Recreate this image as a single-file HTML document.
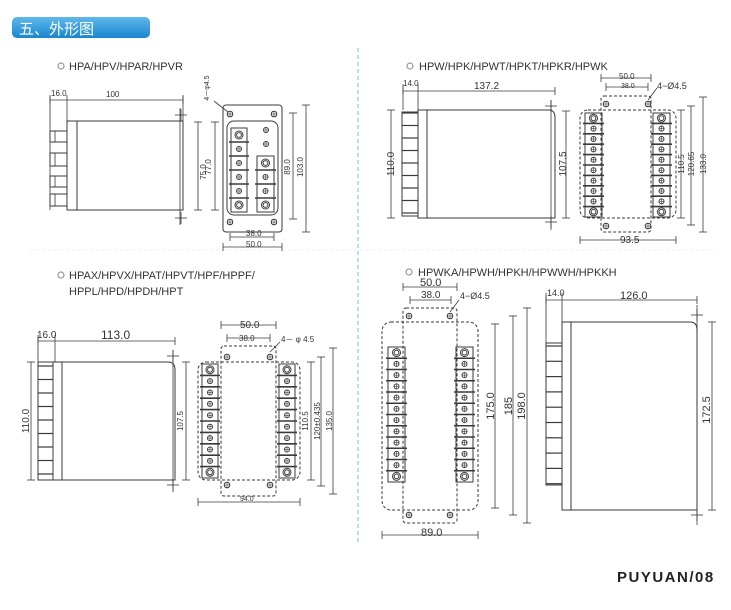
<!DOCTYPE html>
<html><head><meta charset="utf-8"><style>
html,body{margin:0;padding:0;background:#fff;}
svg{display:block;}
text{font-family:"Liberation Sans",sans-serif;fill:#333;}
</style></head><body>
<svg id="s" width="731" height="610" viewBox="0 0 731 610" xmlns="http://www.w3.org/2000/svg">
<defs>
<linearGradient id="hg" x1="0" y1="0" x2="0" y2="1"><stop offset="0" stop-color="#5fb8ec"/><stop offset="1" stop-color="#1a86cf"/></linearGradient>
</defs>
<rect x="12" y="17" width="138" height="21" rx="5" fill="url(#hg)"/>
<text x="19" y="34" style="font-family:'Noto Sans CJK SC',sans-serif;font-size:15px;fill:#fff">五、外形图</text>
<line x1="358" y1="48" x2="358" y2="545" stroke="#9fd3ef" stroke-width="1.5" stroke-dasharray="4,3"/>
<line x1="30" y1="250" x2="715" y2="250" stroke="#e6f2f8" stroke-width="1" stroke-dasharray="3,3"/>

<g id="draw" fill="none" stroke="#3a3a3a" stroke-width="1"></g>

<g font-size="11">
<circle cx="61" cy="66" r="3" fill="none" stroke="#999" stroke-width="1.2"/>
<text x="69" y="70">HPA/HPV/HPAR/HPVR</text>
<circle cx="410" cy="66" r="3" fill="none" stroke="#999" stroke-width="1.2"/>
<text x="419" y="70">HPW/HPK/HPWT/HPKT/HPKR/HPWK</text>
<circle cx="61" cy="275" r="3" fill="none" stroke="#999" stroke-width="1.2"/>
<text x="69" y="279">HPAX/HPVX/HPAT/HPVT/HPF/HPPF/</text>
<text x="69" y="295">HPPL/HPD/HPDH/HPT</text>
<circle cx="409" cy="272" r="3" fill="none" stroke="#999" stroke-width="1.2"/>
<text x="418" y="276">HPWKA/HPWH/HPKH/HPWWH/HPKKH</text>
</g>

<g font-size="8">
<text x="51" y="96">16.0</text><text x="106" y="97">100</text>
<text x="206" y="172" transform="rotate(-90 206 172)" text-anchor="middle">75.0</text>
<text x="211" y="167" transform="rotate(-90 211 167)" text-anchor="middle">77.0</text>
<text x="290" y="167" transform="rotate(-90 290 167)" text-anchor="middle">89.0</text>
<text x="303" y="167" transform="rotate(-90 303 167)" text-anchor="middle">103.0</text>
<text x="246" y="236">38.0</text><text x="246" y="247">50.0</text>
<text x="209" y="88" transform="rotate(-90 209 88)" text-anchor="middle" font-size="7">4－φ4.5</text>

<text x="403" y="86">14.0</text><text x="474" y="89" font-size="10">137.2</text>
<text x="394" y="164" transform="rotate(-90 394 164)" text-anchor="middle" font-size="10">110.0</text>
<text x="566" y="164" transform="rotate(-90 566 164)" text-anchor="middle" font-size="10">107.5</text>
<text x="619" y="79">50.0</text><text x="621" y="88" font-size="7">38.0</text>
<text x="657" y="89" font-size="9">4−Ø4.5</text>
<text x="684" y="164" transform="rotate(-90 684 164)" text-anchor="middle">110.5</text>
<text x="694" y="164" transform="rotate(-90 694 164)" text-anchor="middle">120.65</text>
<text x="706" y="164" transform="rotate(-90 706 164)" text-anchor="middle">133.0</text>
<text x="620" y="243" font-size="10">93.5</text>

<text x="37" y="338" font-size="10">16.0</text><text x="101" y="339" font-size="12">113.0</text>
<text x="29" y="421" transform="rotate(-90 29 421)" text-anchor="middle" font-size="10">110.0</text>
<text x="183" y="421" transform="rotate(-90 183 421)" text-anchor="middle">107.5</text>
<text x="240" y="328" font-size="10">50.0</text><text x="239" y="341">38.0</text>
<text x="281" y="342">4－ φ 4.5</text>
<text x="308" y="421" transform="rotate(-90 308 421)" text-anchor="middle">110.5</text>
<text x="320" y="421" transform="rotate(-90 320 421)" text-anchor="middle">120±0.435</text>
<text x="332" y="421" transform="rotate(-90 332 421)" text-anchor="middle">135.0</text>
<text x="240" y="501" font-size="7">94.0</text>

<text x="420" y="286" font-size="11">50.0</text><text x="421" y="298" font-size="10">38.0</text>
<text x="460" y="299" font-size="9">4−Ø4.5</text>
<text x="494" y="406" transform="rotate(-90 494 406)" text-anchor="middle" font-size="11">175.0</text>
<text x="512" y="406" transform="rotate(-90 512 406)" text-anchor="middle" font-size="11">185</text>
<text x="525" y="406" transform="rotate(-90 525 406)" text-anchor="middle" font-size="11">198.0</text>
<text x="421" y="536" font-size="11">89.0</text>
<text x="547" y="296" font-size="9">14.0</text><text x="620" y="299" font-size="11">126.0</text>
<text x="710" y="410" transform="rotate(-90 710 410)" text-anchor="middle" font-size="11">172.5</text>
</g>
<text x="617" y="582" style="font-size:15px;font-weight:bold;letter-spacing:1.5px;fill:#222">PUYUAN/08</text>
</svg>
<script>
var g=document.getElementById('draw'),NS='http://www.w3.org/2000/svg';
function el(t,a){var e=document.createElementNS(NS,t);for(var k in a)e.setAttribute(k,a[k]);g.appendChild(e);return e;}
function L(x1,y1,x2,y2,w){el('line',{x1:x1,y1:y1,x2:x2,y2:y2,'stroke-width':w||0.8});}
function R(x,y,w,h,rx,dash){var a={x:x,y:y,width:w,height:h,rx:rx||0};if(dash)a['stroke-dasharray']='3,2';el('rect',a);}
function C(x,y,r){el('circle',{cx:x,cy:y,r:r});}
function screw(x,y,r){C(x,y,r);L(x-r,y,x+r,y,0.6);L(x,y-r,x,y+r,0.6);}
function hole(x,y){screw(x,y,2.8);}
function big(x,y){C(x,y,4);C(x,y,2.4);}
function hdim(x1,x2,y){L(x1,y,x2,y);L(x1,y-4,x1,y+4);L(x2,y-4,x2,y+4);}
function vdim(x,y1,y2){L(x,y1,x,y2);L(x-4,y1,x+4,y1);L(x-4,y2,x+4,y2);}
function cross(x,y){L(x-6,y,x+6,y);L(x,y-6,x,y+6);}
function block(x,y1,y2,n,w){R(x,y1,w,y2-y1);var s=(y2-y1)/n;var cx=x+w/2;
 for(var i=0;i<n;i++){var cy=y1+s*(i+.5);if(i==0||i==n-1)big(cx,cy);else screw(cx,cy,2.5);
 if(i>0){L(x-2,y1+s*i,x+w+2,y1+s*i,1.6);}}}
// Panel 1 side
hdim(50,183,100);L(50,95,50,210);L(67,95,67,121);L(183,95,183,121);
R(67,121,10,89);R(77,121,106,89);
[[131,142],[153,166],[176,187],[194,206]].forEach(function(p){R(50,p[0],17,p[1]-p[0]);L(55,p[0],55,p[1]);});
L(180,108,180,225);cross(181,115);cross(181,218);vdim(198,122,210);
// Panel 1 front
vdim(215,122,210);R(223,105,59,127,3);R(227,121,51,94,7);
hole(230,114);hole(274,114);hole(230,222);hole(274,222);
block(231,128,212,6,16);
screw(266,130,2.5);screw(266,144,2.5);block(257,156,212,4,17);
vdim(293,113,219);vdim(306,105,232);hdim(230,274,237);hdim(223,282,247);
L(214,101,228,112);
// Panel 2 side
hdim(403,555,91);L(403,84,403,110);L(418,84,418,110);
R(418,110,9,108);el('path',{d:'M427 110 H549 Q555 110 555 118 V218 H427'});
R(402,112,16,104);for(var i=0;i<9;i++){L(402,113+i*12.5,418,113+i*12.5,1.2);}
L(391,110,391,218);L(387,110,395,110);L(387,218,395,218);
L(551,100,551,230);cross(551,106);cross(551,222);vdim(566,111,218);
// Panel 2 front
R(580,110,96,108,8,1);R(601,96,50,136,3,1);
hole(606,104);hole(648,104);hole(606,226);hole(648,226);
block(585,113,217,10,17);block(653,113,217,10,17);
hdim(601,651,78);hdim(606,648,87);L(648,100,657,88);
vdim(681,110,218);vdim(691,106,225);vdim(703,97,232);hdim(580,676,240);
// Panel 3 side
hdim(38,175,341);L(38,335,38,362);L(55,335,55,362);
R(53,362,9,118);el('path',{d:'M62 362 H168 Q175 362 175 370 V480 H62'});
R(38,362,15,118);for(var i=0;i<9;i++){L(38,366+i*13.5,53,366+i*13.5,1.2);}
vdim(31,362,480);L(173,350,173,492);cross(173,356);cross(173,485);vdim(186,362,480);
// Panel 3 front
R(198,362,102,118,8,1);R(221,346,55,150,3,1);
hole(227,357);hole(270,357);hole(227,485);hole(270,485);
block(202,364,478,10,16);block(279,364,478,10,16);
hdim(221,276,325);hdim(227,270,338);L(270,352,280,342);
vdim(311,362,480);vdim(321,357,486);vdim(333,348,494);hdim(198,300,502);
// Panel 4 front
R(382,322,96,188,9,1);R(403,308,54,215,3,1);
hole(409,316);hole(450,316);hole(409,515);hole(450,515);
block(388,347,482,12,17);block(456,347,482,12,17);
hdim(403,457,287);hdim(410,451,300);L(450,312,459,300);
vdim(495,324,508);vdim(513,316,515);vdim(527,308,523);hdim(382,478,535);
// Panel 4 side
hdim(546,697,300);L(546,293,546,343);L(562,293,562,322);
R(562,322,9,188);el('path',{d:'M571 322 H690 Q697 322 697 330 V510 H571'});
R(546,343,16,142);for(var i=0;i<10;i++){L(546,346+i*15.3,562,346+i*15.3,1.2);}
L(697,305,697,525);cross(697,315);cross(697,515);vdim(712,322,510);
</script>
</body></html>
